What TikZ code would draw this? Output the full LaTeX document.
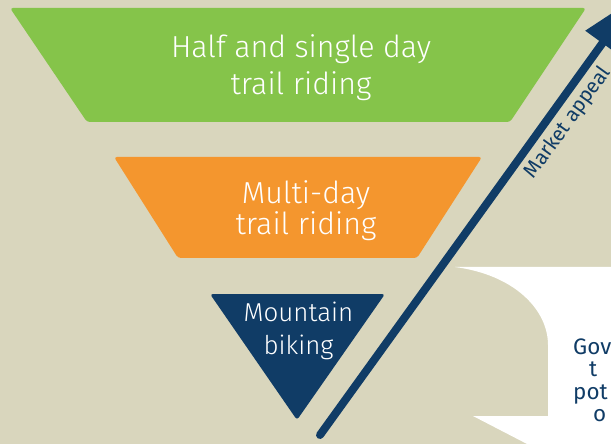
\documentclass[tikz,border=0pt]{standalone}
\usepackage{fontspec}
\setmainfont{Fira Sans}[UprightFont={* Light}]
\newfontfamily\notefont{Fira Sans}
\usetikzlibrary{calc}
\definecolor{paper}{RGB}{217,214,189}
\definecolor{leaf}{RGB}{133,196,74}
\definecolor{amber}{RGB}{244,150,46}
\definecolor{navy}{RGB}{16,60,102}
\tikzset{
  band/.style={rounded corners=3bp},
  bandtext/.style={text=white, align=center, inner sep=0pt, anchor=base},
  notetext/.style={text=navy, inner sep=0pt, anchor=base west, font=\notefont\fontsize{22.5}{24}\selectfont},
}
\begin{document}
\begin{tikzpicture}[x=1bp,y=-1bp]
  \useasboundingbox (0,0) rectangle (611,444);
  \clip (0,0) rectangle (611,444);
  \fill[paper] (0,0) rectangle (611,444);

  % funnel bands
  \fill[leaf, band] (10,8) -- (586,8) -- (510,122) -- (87,122) -- cycle;
  \fill[amber, band] (114,157) -- (482,157) -- (417,258) -- (178,258) -- cycle;
  \fill[navy, band] (210,294) -- (385,294) -- (297,420) -- cycle;

  % band labels, placed by the baseline of their last line
  \node[bandtext, font=\fontsize{30.5}{38}\selectfont] (halfday) at (301,95)
    {Half and single day\\trail riding};
  \node[bandtext, font=\fontsize{30.5}{32}\selectfont] (multiday) at (306,235)
    {Multi-day\\trail riding};
  \node[bandtext, font=\fontsize{26}{33}\selectfont] (mtb) at (298.5,354)
    {Mountain\\biking};

  % market appeal arrow
  \coordinate (arrowfoot) at (320,435);
  \coordinate (arrowneck) at (604,41);
  \coordinate (arrowtip) at (635.3,-2.1);
  \coordinate (barbleft) at (585.2,30.7);
  \coordinate (barbright) at (620,55.9);
  \draw[navy, line width=8bp, line cap=round] (arrowfoot) -- (arrowneck);
  \fill[navy] (barbleft) -- (arrowtip) -- (barbright) -- cycle;
  \node[text=navy, inner sep=0pt, rotate=54.2, font=\notefont\fontsize{20.5}{24}\selectfont]
    (appeal) at (568,123) {Market appeal};

  % callout panel
  \fill[white] (455,267) -- (640,267) -- (640,460) -- (558,460) -- (473,416)
    -- (548,416) -- (548,345) .. controls (548,310) and (515,275) .. (455,267) -- cycle;
  \node[notetext] (noteA) at (573,354) {Gov};
  \node[notetext] (noteB) at (589,376.5) {t};
  \node[notetext] (noteC) at (573,399) {pot};
  \node[notetext] (noteD) at (593,421.5) {o};
\end{tikzpicture}
\end{document}
